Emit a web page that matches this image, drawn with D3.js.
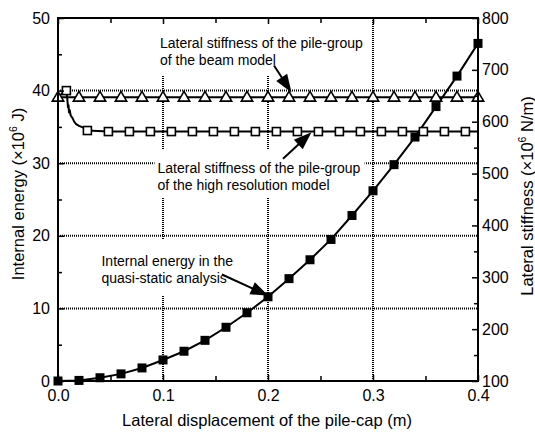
<!DOCTYPE html>
<html>
<head>
<meta charset="utf-8">
<script src="https://cdn.jsdelivr.net/npm/d3@7/dist/d3.min.js"></script>
<style>
  html, body { margin: 0; padding: 0; background: #fff; }
  svg { display: block; font-family: Arial, "Liberation Sans", sans-serif; }
</style>
</head>
<body>
<svg id="chart" width="535" height="432"></svg>
<script>
// Lateral displacement of the pile-cap (m)
const energyDisp = [0, 0.02, 0.04, 0.06, 0.08, 0.10, 0.12, 0.14, 0.16, 0.18, 0.20,
                    0.22, 0.24, 0.26, 0.28, 0.30, 0.32, 0.34, 0.36, 0.38, 0.40];
// Internal energy in the quasi-static analysis (x10^6 J)
const energyValue = [0, 0.08, 0.45, 0.98, 1.8, 2.9, 4.1, 5.6, 7.4, 9.4, 11.6,
                     14.1, 16.7, 19.5, 22.8, 26.2, 29.8, 33.6, 37.8, 42.0, 46.5];

// Pile-group lateral stiffness, beam model (x10^6 N/m)
const beamDisp = [0, 0.02, 0.04, 0.06, 0.08, 0.10, 0.12, 0.14, 0.16, 0.18, 0.20,
                  0.22, 0.24, 0.26, 0.28, 0.30, 0.32, 0.34, 0.36, 0.38, 0.40];
const beamStiff = [647, 647, 647, 647, 647, 647, 647, 647, 647, 647, 647,
                   647, 647, 647, 647, 647, 647, 647, 647, 647, 647];

// Pile-group lateral stiffness, high resolution model (x10^6 N/m): full history
const hiresDisp = [0, 0.004, 0.008, 0.0088, 0.0095, 0.0100, 0.0105, 0.0112, 0.0121, 0.0128,
                   0.0136, 0.0152, 0.0169, 0.020, 0.0248, 0.028, 0.048, 0.068, 0.088, 0.108,
                   0.128, 0.148, 0.168, 0.188, 0.208, 0.228, 0.248, 0.268, 0.288, 0.308,
                   0.328, 0.348, 0.368, 0.388, 0.400];
const hiresStiff = [647, 655, 660, 645, 628, 632, 618, 622, 612, 610,
                    608, 601, 596, 592, 588, 583, 581, 581, 581, 581,
                    581, 581, 581, 581, 581, 581, 581, 581, 581, 581,
                    581, 581, 581, 581, 581];
// Sampled output points of the high resolution model (marked)
const hiresMarkDisp = [0.008, 0.028, 0.048, 0.068, 0.088, 0.108, 0.128, 0.148, 0.168, 0.188,
                       0.208, 0.228, 0.248, 0.268, 0.288, 0.308, 0.328, 0.348, 0.368, 0.388];
const hiresMarkStiff = [660, 583, 581, 581, 581, 581, 581, 581, 581, 581,
                        581, 581, 581, 581, 581, 581, 581, 581, 581, 581];

// Axis ticks
const xTicks = [0, 0.1, 0.2, 0.3, 0.4];
const xMinorTicks = [0.05, 0.15, 0.25, 0.35];
const energyTicks = [0, 10, 20, 30, 40, 50];
const energyMinorTicks = [5, 15, 25, 35, 45];
const stiffTicks = [100, 200, 300, 400, 500, 600, 700, 800];
const stiffMinorTicks = [150, 250, 350, 450, 550, 650, 750];

// Callouts, positioned in data units (displacement, energy)
const callouts = [
  { lines: ["Lateral stiffness of the pile-group", "of the beam model"],
    at: [0.0971, 45.87], tail: [0.2057, 43.45], tip: [0.2224, 39.75],
    pad: { t: 18, r: 3, b: 7, l: 5 } },
  { lines: ["Lateral stiffness of the pile-group", "of the high resolution model"],
    at: [0.0948, 28.65], tail: [0.2143, 30.6], tip: [0.2414, 34.25],
    pad: { t: 10, r: 4, b: 5, l: 3 } },
  { lines: ["Internal energy in the", "quasi-static analysis"],
    at: [0.0414, 15.84], tail: [0.1562, 14.67], tip: [0.2005, 11.75],
    pad: { t: 13, r: 4, b: 9, l: 4 } }
];

const W = 535, H = 432;
const margin = { top: 18, right: 57, bottom: 51, left: 58 };
const svg = d3.select("#chart");

const x = d3.scaleLinear().domain([0, 0.4]).range([margin.left, W - margin.right]);
const yE = d3.scaleLinear().domain([0, 50]).range([H - margin.bottom, margin.top]);
const yK = d3.scaleLinear().domain([100, 800]).range([H - margin.bottom, margin.top]);

const x0 = x.range()[0], x1 = x.range()[1];
const yBot = yE.range()[0], yTop = yE.range()[1];

svg.append("rect").attr("width", W).attr("height", H).attr("fill", "#fff");

svg.append("defs").append("clipPath").attr("id", "plot-clip")
  .append("rect").attr("x", x0).attr("y", yTop).attr("width", x1 - x0).attr("height", yBot - yTop);

// Dotted grid
const grid = svg.append("g").attr("stroke", "#000").attr("stroke-width", 2)
  .attr("stroke-dasharray", "1,1").attr("fill", "none");
[0.1, 0.2, 0.3].forEach(v => {
  grid.append("line").attr("x1", x(v)).attr("x2", x(v)).attr("y1", yTop).attr("y2", yBot);
});
[10, 20, 30, 40].forEach(v => {
  grid.append("line").attr("x1", x0).attr("x2", x1).attr("y1", yE(v)).attr("y2", yE(v));
});

// Callout text on white panels
const calloutLayer = svg.append("g").attr("clip-path", "url(#plot-clip)");
const textLayer = svg.append("g");
callouts.forEach(c => {
  const t = textLayer.append("text")
    .attr("x", x(c.at[0])).attr("y", yE(c.at[1]))
    .attr("font-size", 14).attr("fill", "#000");
  c.lines.forEach((line, i) => {
    t.append("tspan").attr("x", x(c.at[0])).attr("dy", i === 0 ? 0 : 17).text(line);
  });
  const b = t.node().getBBox();
  calloutLayer.append("rect")
    .attr("x", b.x - c.pad.l).attr("y", b.y - c.pad.t)
    .attr("width", b.width + c.pad.l + c.pad.r).attr("height", b.height + c.pad.t + c.pad.b)
    .attr("fill", "#fff");
});
textLayer.raise();

// Series lines
const seriesLayer = svg.append("g");
const lineE = d3.line().x(d => x(d[0])).y(d => yE(d[1]));
const lineK = d3.line().x(d => x(d[0])).y(d => yK(d[1]));

seriesLayer.append("path")
  .datum(beamDisp.map((d, i) => [d, beamStiff[i]]))
  .attr("d", lineK).attr("fill", "none").attr("stroke", "#000").attr("stroke-width", 2);

seriesLayer.append("path")
  .datum(hiresDisp.map((d, i) => [d, hiresStiff[i]]))
  .attr("d", lineK).attr("fill", "none").attr("stroke", "#000").attr("stroke-width", 2)
  .attr("stroke-linejoin", "round");

seriesLayer.append("path")
  .datum(energyDisp.map((d, i) => [d, energyValue[i]]))
  .attr("d", lineE).attr("fill", "none").attr("stroke", "#000").attr("stroke-width", 2);

// Markers
const triSym = d3.symbol().type(d3.symbolTriangle).size(56);
seriesLayer.selectAll(".tri")
  .data(beamDisp.map((d, i) => [d, beamStiff[i]]))
  .join("path").attr("class", "tri")
  .attr("transform", d => `translate(${x(d[0])},${yK(d[1]) + 0.5})`)
  .attr("d", triSym).attr("fill", "#fff").attr("stroke", "#000").attr("stroke-width", 1.6);

seriesLayer.selectAll(".osq")
  .data(hiresMarkDisp.map((d, i) => [d, hiresMarkStiff[i]]))
  .join("rect").attr("class", "osq")
  .attr("x", d => x(d[0]) - 4).attr("y", d => yK(d[1]) - 4)
  .attr("width", 8).attr("height", 8)
  .attr("fill", "#fff").attr("stroke", "#000").attr("stroke-width", 1.6);

seriesLayer.selectAll(".fsq")
  .data(energyDisp.map((d, i) => [d, energyValue[i]]))
  .join("rect").attr("class", "fsq")
  .attr("x", d => x(d[0]) - 4.5).attr("y", d => yE(d[1]) - 4.5)
  .attr("width", 9).attr("height", 9).attr("fill", "#000");

// Callout arrows
const arrowLayer = svg.append("g");
callouts.forEach(c => {
  const tx = x(c.tail[0]), ty = yE(c.tail[1]);
  const hx = x(c.tip[0]), hy = yE(c.tip[1]);
  const dx = hx - tx, dy = hy - ty, len = Math.hypot(dx, dy);
  const ux = dx / len, uy = dy / len;
  const headLen = 18, headHalf = 6.5;
  const bx = hx - ux * headLen, by = hy - uy * headLen;
  arrowLayer.append("line")
    .attr("x1", tx).attr("y1", ty).attr("x2", bx + ux * 2).attr("y2", by + uy * 2)
    .attr("stroke", "#000").attr("stroke-width", 2);
  arrowLayer.append("path")
    .attr("d", `M${hx},${hy}L${bx - uy * headHalf},${by + ux * headHalf}L${bx + uy * headHalf},${by - ux * headHalf}Z`)
    .attr("fill", "#000");
});

// Axes: ticks point inward
const axisFont = g => g.selectAll("text").attr("font-size", 16)
  .attr("font-family", 'Arial, "Liberation Sans", sans-serif').attr("fill", "#000");
const cleanAxis = g => { g.select(".domain").remove(); g.selectAll("line").attr("stroke", "#000").attr("stroke-width", 1.5); };

svg.append("g").attr("transform", `translate(0,${yBot})`)
  .call(d3.axisBottom(x).tickValues(xTicks).tickFormat(d3.format(".1f")).tickSize(-6).tickPadding(9))
  .call(cleanAxis).call(axisFont);
svg.append("g").attr("transform", `translate(0,${yBot})`)
  .call(d3.axisBottom(x).tickValues(xMinorTicks).tickFormat("").tickSize(-5))
  .call(cleanAxis);
svg.append("g").attr("transform", `translate(0,${yTop})`)
  .call(d3.axisTop(x).tickValues(xTicks).tickFormat("").tickSize(-6))
  .call(cleanAxis);
svg.append("g").attr("transform", `translate(0,${yTop})`)
  .call(d3.axisTop(x).tickValues(xMinorTicks).tickFormat("").tickSize(-5))
  .call(cleanAxis);

svg.append("g").attr("transform", `translate(${x0},0)`)
  .call(d3.axisLeft(yE).tickValues(energyTicks).tickFormat(d3.format("d")).tickSize(-6).tickPadding(8))
  .call(cleanAxis).call(axisFont);
svg.append("g").attr("transform", `translate(${x0},0)`)
  .call(d3.axisLeft(yE).tickValues(energyMinorTicks).tickFormat("").tickSize(-4))
  .call(cleanAxis);

svg.append("g").attr("transform", `translate(${x1},0)`)
  .call(d3.axisRight(yK).tickValues(stiffTicks).tickFormat(d3.format("d")).tickSize(-6).tickPadding(4))
  .call(cleanAxis).call(axisFont);
svg.append("g").attr("transform", `translate(${x1},0)`)
  .call(d3.axisRight(yK).tickValues(stiffMinorTicks).tickFormat("").tickSize(-4))
  .call(cleanAxis);

// Plot frame
svg.append("rect").attr("x", x0).attr("y", yTop).attr("width", x1 - x0).attr("height", yBot - yTop)
  .attr("fill", "none").attr("stroke", "#000").attr("stroke-width", 2);

// Axis titles
svg.append("text").attr("x", 267).attr("y", 426).attr("text-anchor", "middle")
  .attr("font-size", 16.5).attr("fill", "#000")
  .text("Lateral displacement of the pile-cap (m)");

function sciTitle(tx, ty, pre, post) {
  const t = svg.append("text").attr("transform", `translate(${tx},${ty}) rotate(-90)`)
    .attr("text-anchor", "middle").attr("font-size", 16.5).attr("fill", "#000");
  t.append("tspan").text(pre);
  t.append("tspan").attr("font-size", 10.5).attr("dy", -7).text("6");
  t.append("tspan").attr("dy", 7).text(post);
}
sciTitle(24, 194, "Internal energy (\u00d710", " J)");
sciTitle(533, 196, "Lateral stiffness (\u00d710", " N/m)");
</script>
</body>
</html>
